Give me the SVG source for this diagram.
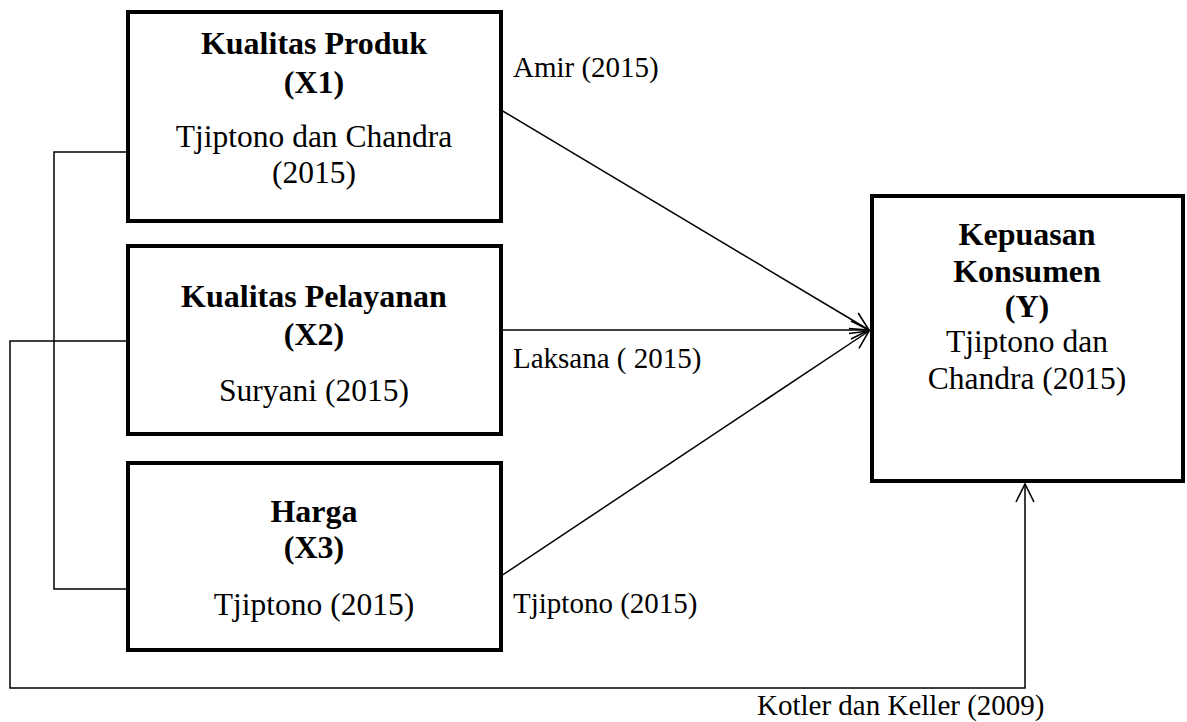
<svg xmlns="http://www.w3.org/2000/svg" width="1187" height="722" viewBox="0 0 1187 722">
<defs>
<style>
.box{fill:#fff;stroke:#000;stroke-width:4}
.ln{fill:none;stroke:#000;stroke-width:1.5}
.t{font-family:"Liberation Serif","Times New Roman",serif;fill:#000}
.b{font-size:32px;font-weight:bold;text-anchor:middle}
.n{font-size:31.5px;text-anchor:middle}
.lbl{font-size:29px}
</style>
<marker id="arr" viewBox="0 0 22 22" refX="21" refY="11" markerWidth="22" markerHeight="22" markerUnits="userSpaceOnUse" orient="auto">
<path d="M3,2 L21,11 L3,20" fill="none" stroke="#000" stroke-width="1.6"/>
</marker>
</defs>
<rect width="1187" height="722" fill="#fff"/>
<g id="connectors">
<polyline class="ln" points="128,152 54,152 54,589 128,589"/>
<polyline class="ln" points="128,341 10,341 10,688 1025,688 1025,484" marker-end="url(#arr)"/>
<line class="ln" x1="501" y1="110" x2="869" y2="330" marker-end="url(#arr)"/>
<line class="ln" x1="501" y1="330" x2="869" y2="330" marker-end="url(#arr)"/>
<line class="ln" x1="501" y1="576" x2="869" y2="331" marker-end="url(#arr)"/>
<text class="t lbl" x="513" y="77">Amir (2015)</text>
<text class="t lbl" x="513" y="368">Laksana ( 2015)</text>
<text class="t lbl" x="513" y="613">Tjiptono (2015)</text>
<text class="t lbl" x="757" y="715">Kotler dan Keller (2009)</text>
</g>
<g id="x1">
<rect class="box" x="128" y="12" width="373" height="209"/>
<text class="t b" x="314" y="54">Kualitas Produk</text>
<text class="t b" x="314" y="93">(X1)</text>
<text class="t n" x="314" y="147">Tjiptono dan Chandra</text>
<text class="t n" x="314" y="183">(2015)</text>
</g>
<g id="x2">
<rect class="box" x="128" y="246" width="373" height="188"/>
<text class="t b" x="314" y="307">Kualitas Pelayanan</text>
<text class="t b" x="314" y="345">(X2)</text>
<text class="t n" x="314" y="401">Suryani (2015)</text>
</g>
<g id="x3">
<rect class="box" x="128" y="463" width="373" height="187"/>
<text class="t b" x="314" y="522">Harga</text>
<text class="t b" x="314" y="558">(X3)</text>
<text class="t n" x="314" y="615">Tjiptono (2015)</text>
</g>
<g id="y">
<rect class="box" x="872" y="196" width="311" height="285"/>
<text class="t b" x="1027" y="245">Kepuasan</text>
<text class="t b" x="1027" y="282">Konsumen</text>
<text class="t b" x="1027" y="317">(Y)</text>
<text class="t n" x="1027" y="352">Tjiptono dan</text>
<text class="t n" x="1027" y="389">Chandra (2015)</text>
</g>
</svg>
